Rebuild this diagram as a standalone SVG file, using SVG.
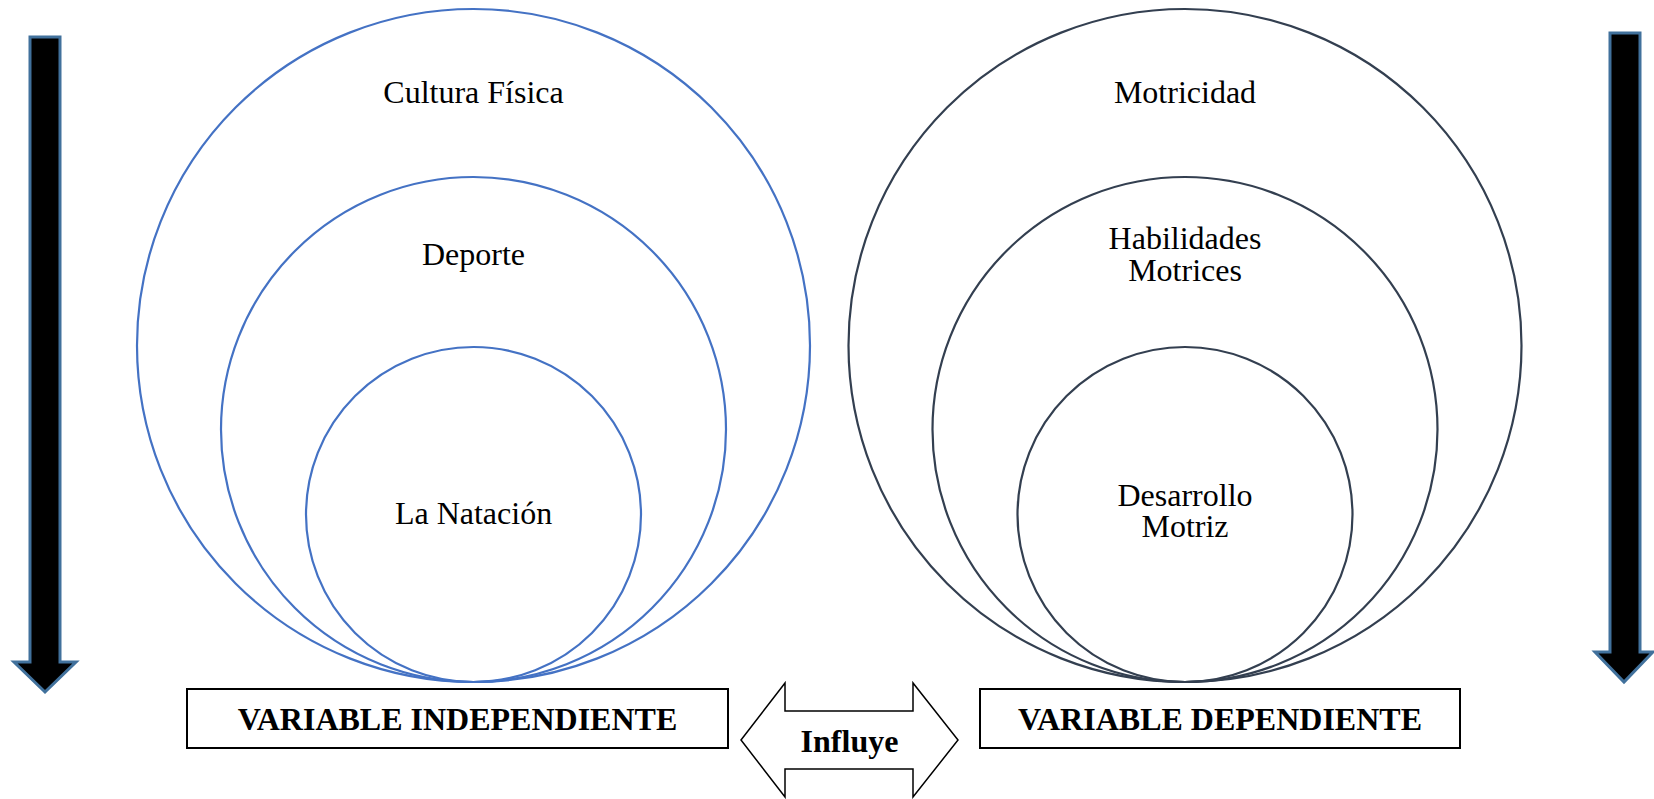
<svg xmlns="http://www.w3.org/2000/svg" width="1654" height="799" viewBox="0 0 1654 799">
<style>
.bg{fill:#fff}
.cl{fill:none;stroke:#4472C4;stroke-width:2.2}
.cr{fill:none;stroke:#333F50;stroke-width:2.2}
.t{font-family:"Liberation Serif","Times New Roman",serif;font-size:32px;fill:#000;text-anchor:middle}
.b{font-family:"Liberation Serif","Times New Roman",serif;font-size:32px;font-weight:bold;fill:#000;text-anchor:middle}
.box{fill:#fff;stroke:#000;stroke-width:2}
.da{fill:#000;stroke:#41719C;stroke-width:3;stroke-linejoin:miter}
.dbl{fill:#fff;stroke:#000;stroke-width:1.5}
</style>
<rect class="bg" x="0" y="0" width="1654" height="799"/>
<g id="arrow-left">
<path class="da" d="M30,37 H60 V662 H76 L45,692 L14,662 H30 Z"/>
</g>
<g id="arrow-right">
<path class="da" d="M1610,33 H1640 V652 H1653 L1624,682 L1595,652 H1610 Z"/>
</g>
<g id="cultura-fisica">
<circle class="cl" cx="473.5" cy="345.5" r="336.5"/>
<text class="t" x="473.5" y="103">Cultura Física</text>
</g>
<g id="deporte">
<circle class="cl" cx="473.5" cy="429.5" r="252.5"/>
<text class="t" x="473.5" y="265">Deporte</text>
</g>
<g id="natacion">
<circle class="cl" cx="473.5" cy="514.5" r="167.5"/>
<text class="t" x="473.5" y="524">La Natación</text>
</g>
<g id="motricidad">
<circle class="cr" cx="1185" cy="345.5" r="336.5"/>
<text class="t" x="1185" y="103">Motricidad</text>
</g>
<g id="habilidades">
<circle class="cr" cx="1185" cy="429.5" r="252.5"/>
<text class="t" x="1185" y="249">Habilidades</text>
<text class="t" x="1185" y="281">Motrices</text>
</g>
<g id="desarrollo">
<circle class="cr" cx="1185" cy="514.5" r="167.5"/>
<text class="t" x="1185" y="506">Desarrollo</text>
<text class="t" x="1185" y="537">Motriz</text>
</g>
<g id="var-independiente">
<rect class="box" x="187" y="689" width="541" height="59"/>
<text class="b" x="457.5" y="730">VARIABLE INDEPENDIENTE</text>
</g>
<g id="var-dependiente">
<rect class="box" x="980" y="689" width="480" height="59"/>
<text class="b" x="1220" y="730">VARIABLE DEPENDIENTE</text>
</g>
<g id="connectors">
<path class="dbl" d="M741,740 L785,683 V711 H913 V683 L958,740 L913,797 V769 H785 V797 Z"/>
<text class="b" x="849.5" y="752">Influye</text>
</g>
</svg>
